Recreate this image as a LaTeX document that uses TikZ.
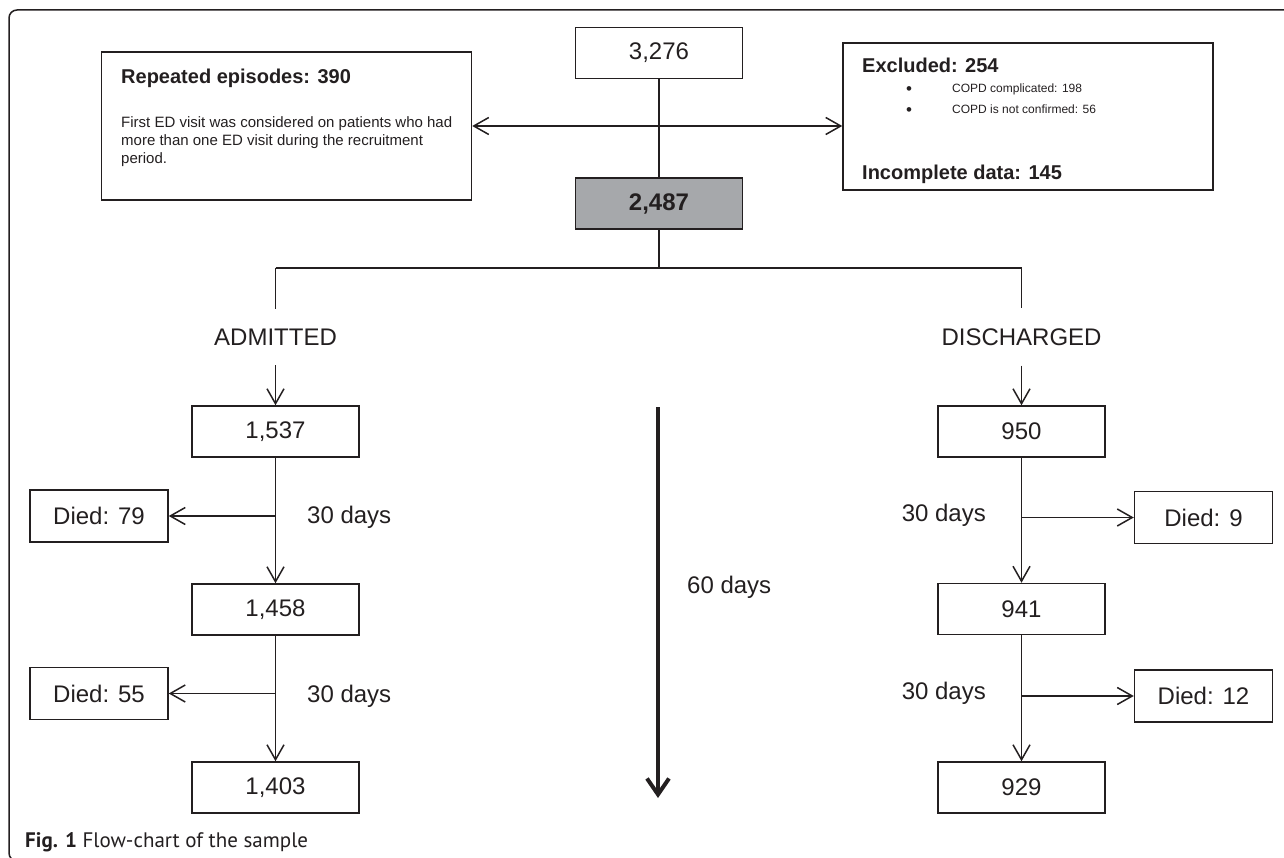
\documentclass[tikz,border=0pt]{standalone}
\usepackage{fontspec}
\setmainfont{Liberation Sans}
\newfontfamily\capfont{PT Sans}
\usetikzlibrary{arrows.meta}
\definecolor{ink}{RGB}{35,31,32}
\definecolor{boxgray}{RGB}{166,168,171}
\begin{document}
\begin{tikzpicture}[x=1pt,y=-1pt,
  every node/.style={text=ink},
  box/.style={draw=ink, line width=1.5pt, minimum width=167pt, minimum height=51pt, inner sep=0pt, font=\fontsize{24}{28}\selectfont},
  diedbox/.style={box, minimum width=138pt, minimum height=52pt},
  bigbox/.style={draw=ink, line width=1.5pt, minimum width=370pt, inner sep=0pt},
  lbl/.style={inner sep=0pt, font=\fontsize{24}{28}\selectfont},
  branchlbl/.style={lbl, inner ysep=20pt},
  conn/.style={draw=ink, line width=1.5pt},
  arr/.style={conn, -{Straight Barb[length=15pt,width=17pt]}},
  dblarr/.style={conn, {Straight Barb[length=15pt,width=17pt]}-{Straight Barb[length=15pt,width=17pt]}},
  bigarr/.style={draw=ink, line width=4pt, -{Straight Barb[length=16pt,width=22pt]}},
  boldtxt/.style={inner sep=0pt, anchor=base west, font=\bfseries\fontsize{20}{24}\selectfont},
  smalltxt/.style={inner sep=0pt, anchor=base west, font=\fontsize{15}{18}\selectfont},
  tinytxt/.style={inner sep=0pt, anchor=base west, font=\fontsize{12}{14}\selectfont},
]
\useasboundingbox (0,0) rectangle (1284,858);
% frame
\draw[ink, line width=1.5pt, rounded corners=8pt] (1295,10) -- (9,10) -- (9,861) -- (40,861);

% top part
\node[box] (n3276) at (659,53) {3,276};
\node[box, fill=boxgray, font=\bfseries\fontsize{24}{28}\selectfont] (n2487) at (659,203.5) {2,487};
\node[bigbox, minimum height=148pt] (rep) at (286.5,126) {};
\node[bigbox, minimum height=147pt] (exc) at (1028,116.5) {};

\node[boldtxt] (repT) at (121,83.5) {Repeated episodes: 390};
\node[smalltxt] (repL1) at (121,128) {First ED visit was considered on patients who had};
\node[smalltxt] (repL2) at (121,146) {more than one ED visit during the recruitment};
\node[smalltxt] (repL3) at (121,164) {period.};

\node[boldtxt] (excT) at (862,73) {Excluded: 254};
\node[inner sep=0pt, anchor=base, font=\fontsize{17}{18}\selectfont] (bul1) at (909,95) {•};
\node[inner sep=0pt, anchor=base, font=\fontsize{17}{18}\selectfont] (bul2) at (909,116) {•};
\node[tinytxt] (excL1) at (952,93) {COPD complicated: 198};
\node[tinytxt] (excL2) at (952,114) {COPD is not confirmed: 56};
\node[boldtxt] (incT) at (862,180) {Incomplete data: 145};

\draw[conn] (n3276) -- (n2487);
\draw[dblarr] (rep.east) -- (rep.east -| exc.west);

% branch
\coordinate (bm) at (659,268);
\coordinate (bl) at (275.5,268);
\coordinate (br) at (1021.5,268);
\draw[conn] (n2487.south) -- (bm);
\draw[conn] (bl) -- (br);

\node[branchlbl] (adm) at (275.5,337) {ADMITTED};
\node[branchlbl] (dis) at (1021.5,337) {DISCHARGED};
\draw[conn] (bl) -- (adm.north);
\draw[conn] (br) -- (dis.north);

% admitted column
\node[box] (n1537) at (275.5,431.5) {1,537};
\node[box] (n1458) at (275.5,609.5) {1,458};
\node[box] (n1403) at (275.5,787.5) {1,403};
\node[diedbox] (d79) at (99,516) {Died: 79};
\node[diedbox] (d55) at (99,693.5) {Died: 55};
\draw[arr] (adm.south) -- (n1537.north);
\draw[arr] (n1537) -- (n1458);
\draw[arr] (n1458) -- (n1403);
\coordinate (j1) at (n1537.south |- d79.east);
\coordinate (j2) at (n1458.south |- d55.east);
\draw[arr] (j1) -- (d79.east);
\draw[arr] (j2) -- (d55.east);
\node[lbl, anchor=west] (t1) at (307,517) {30 days};
\node[lbl, anchor=west] (t2) at (307,696) {30 days};

% discharged column
\node[box] (n950) at (1021.5,431.5) {950};
\node[box] (n941) at (1021.5,609) {941};
\node[box] (n929) at (1021.5,787.5) {929};
\node[diedbox] (d9) at (1203.5,517.5) {Died: 9};
\node[diedbox] (d12) at (1203.5,696) {Died: 12};
\draw[arr] (dis.south) -- (n950.north);
\draw[arr] (n950) -- (n941);
\draw[arr] (n941) -- (n929);
\coordinate (j3) at (n950.south |- d9.west);
\coordinate (j4) at (n941.south |- d12.west);
\draw[arr] (j3) -- (d9.west);
\draw[arr] (j4) -- (d12.west);
\node[lbl, anchor=east] (t3) at (986,515) {30 days};
\node[lbl, anchor=east] (t4) at (986,693) {30 days};

% 60 days
\coordinate (s60) at (658,407);
\coordinate (e60) at (658,798);
\draw[bigarr] (s60) -- (e60);
\node[lbl, anchor=west] (t60) at (687,587) {60 days};

% caption
\node[inner sep=0pt, anchor=base west, font=\capfont\fontsize{21}{24}\selectfont] (cap) at (25,847) {\textbf{Fig. 1} Flow-chart of the sample};
\end{tikzpicture}
\end{document}
